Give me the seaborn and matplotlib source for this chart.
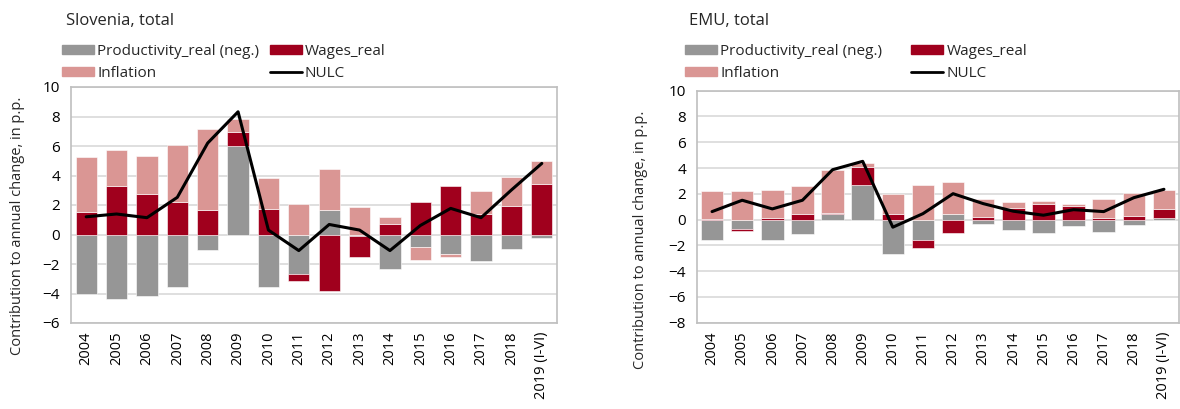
import numpy as np
import pandas as pd
import matplotlib
matplotlib.use("Agg")
import matplotlib.pyplot as plt
import seaborn as sns
from matplotlib.patches import Patch
from matplotlib.lines import Line2D

sns.set_theme(style="white")
plt.rcParams['font.family'] = ['Open Sans', 'DejaVu Sans']

years = ["2004", "2005", "2006", "2007", "2008", "2009", "2010", "2011", "2012",
         "2013", "2014", "2015", "2016", "2017", "2018", "2019 (I-VI)"]

# Slovenia
si_prod = [-4.05, -4.39, -4.2, -3.57, -1.07, 5.98, -3.57, -2.66, 1.66, -0.12,
           -2.36, -0.84, -1.34, -1.82, -0.98, -0.23]
si_wages = [1.55, 3.3, 2.75, 2.2, 1.66, 1.0, 1.73, -0.52, -3.84, -1.43,
            0.73, 2.2, 3.32, 1.41, 1.93, 3.39]
si_infl = [3.7, 2.4, 2.59, 3.89, 5.52, 0.84, 2.13, 2.05, 2.77, 1.86,
           0.47, -0.86, -0.18, 1.54, 1.96, 1.59]
si_nulc = [1.2, 1.39, 1.14, 2.52, 6.2, 8.32, 0.3, -1.09, 0.68, 0.3,
           -1.09, 0.61, 1.77, 1.14, 3.02, 4.82]

# EMU
emu_prod = [-1.55, -0.75, -1.55, -1.14, 0.41, 2.71, -2.68, -1.6, 0.41, -0.31,
            -0.83, -1.03, -0.52, -0.93, -0.39, 0.1]
emu_wages = [0.05, -0.1, 0.1, 0.41, 0.11, 1.34, 0.41, -0.59, -1.06, 0.21,
             0.9, 1.24, 1.03, 0.13, 0.28, 0.73]
emu_infl = [2.14, 2.19, 2.2, 2.19, 3.35, 0.34, 1.55, 2.71, 2.51, 1.36,
            0.44, 0.23, 0.21, 1.44, 1.78, 1.47]
emu_nulc = [0.62, 1.5, 0.83, 1.5, 3.87, 4.52, -0.59, 0.46, 2.01, 1.24,
            0.65, 0.34, 0.77, 0.62, 1.7, 2.35]

series_names = ["Productivity_real (neg.)", "Wages_real", "Inflation"]
colors = ["#969696", "#A0001D", "#DA9694"]
line_name = "NULC"

W, H = 1180, 409
fig = plt.figure(figsize=(W / 100, H / 100), dpi=100)


def px_axes(x0, y0, x1, y1):
    return fig.add_axes([x0 / W, 1 - y1 / H, (x1 - x0) / W, (y1 - y0) / H])


def draw(ax, prod, wages, infl, nulc, ylim, width):
    n = len(years)
    pos = np.zeros(n)
    neg = np.zeros(n)
    for vals, col in zip([prod, wages, infl], colors):
        v = np.array(vals, dtype=float)
        bottom = np.where(v >= 0, pos, neg)
        df = pd.DataFrame({"year": years, "val": v})
        sns.barplot(data=df, x="year", y="val", order=years, color=col,
                    saturation=1, width=width, bottom=bottom, ax=ax,
                    edgecolor="white", linewidth=0.4, zorder=2)
        pos = np.where(v >= 0, pos + v, pos)
        neg = np.where(v < 0, neg + v, neg)
    sns.lineplot(x=np.arange(n), y=nulc, color="black", linewidth=2.2,
                 sort=False, estimator=None, ax=ax, zorder=4)
    ax.set_ylim(*ylim)
    ax.set_xlim(-0.5, n - 0.5)
    ax.set_yticks(np.arange(ylim[0], ylim[1] + 1, 2))
    ax.yaxis.grid(True, color="#D9D9D9", linewidth=1.2, zorder=0)
    ax.set_axisbelow(True)
    for s in ax.spines.values():
        s.set_color("#BFBFBF")
        s.set_linewidth(1.2)
    ax.set_xlabel("")
    ax.set_ylabel("")
    ax.tick_params(axis="x", labelrotation=90, length=0, pad=6, labelsize=10.5,
                   labelcolor="black")
    ax.tick_params(axis="y", length=0, pad=8, labelsize=11, labelcolor="black")
    for lbl in ax.get_xticklabels():
        lbl.set_verticalalignment("top")


ax1 = px_axes(71, 87, 557, 323)
draw(ax1, si_prod, si_wages, si_infl, si_nulc, (-6, 10), 0.7)
ax2 = px_axes(697, 90.7, 1179, 322.7)
draw(ax2, emu_prod, emu_wages, emu_infl, emu_nulc, (-8, 10), 0.75)

handles = [Patch(color=colors[0]), Patch(color=colors[2]),
           Patch(color=colors[1]), Line2D([], [], color="black", linewidth=2)]
labels = [series_names[0], series_names[2], series_names[1], line_name]

for x_leg, cs in [(62, 0.7), (685, 1.9)]:
    fig.legend(handles, labels, ncol=2, loc="upper left",
               bbox_to_anchor=(x_leg / W, 1 - 44 / H), frameon=False,
               fontsize=11, handlelength=2.1, handleheight=0.6,
               handletextpad=0.2, columnspacing=cs, labelspacing=0.45,
               borderaxespad=0, borderpad=0)

fig.text(66 / W, 1 - 21 / H, "Slovenia, total", fontsize=12, va="center", ha="left")
fig.text(689 / W, 1 - 21 / H, "EMU, total", fontsize=12, va="center", ha="left")

ylab = "Contribution to annual change, in p.p."
fig.text(18 / W, 1 - 226 / H, ylab, rotation=90, fontsize=10.5, va="center", ha="center")
fig.text(641 / W, 1 - 240 / H, ylab, rotation=90, fontsize=10.5, va="center", ha="center")

fig.savefig("out.png", dpi=100, facecolor="white")
